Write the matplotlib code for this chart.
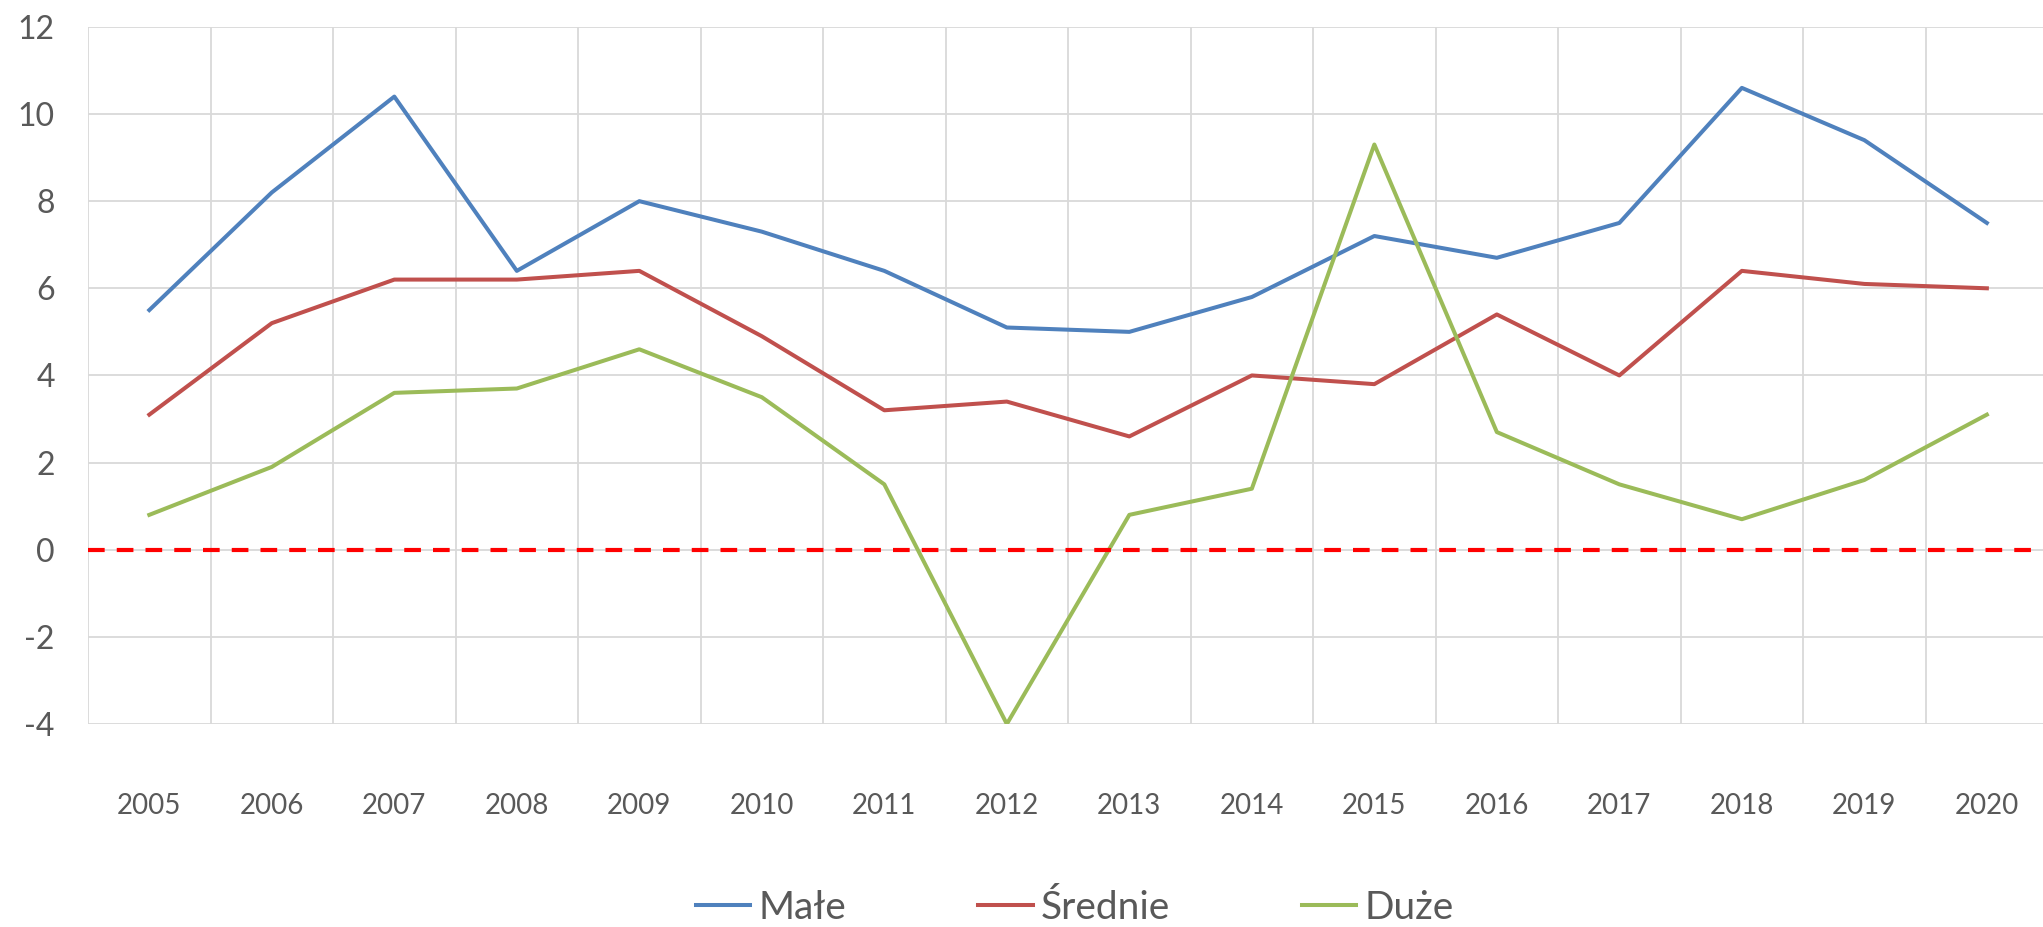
import matplotlib.pyplot as plt
import numpy as np

years = ['2005', '2006', '2007', '2008', '2009', '2010', '2011', '2012',
         '2013', '2014', '2015', '2016', '2017', '2018', '2019', '2020']
male = [5.5, 8.2, 10.4, 6.4, 8.0, 7.3, 6.4, 5.1, 5.0, 5.8, 7.2, 6.7, 7.5, 10.6, 9.4, 7.5]
srednie = [3.1, 5.2, 6.2, 6.2, 6.4, 4.9, 3.2, 3.4, 2.6, 4.0, 3.8, 5.4, 4.0, 6.4, 6.1, 6.0]
duze = [0.8, 1.9, 3.6, 3.7, 4.6, 3.5, 1.5, -4.0, 0.8, 1.4, 9.3, 2.7, 1.5, 0.7, 1.6, 3.1]

plt.rcParams['font.family'] = ['Lato', 'DejaVu Sans']
plt.rcParams['axes.unicode_minus'] = False
txt = '#595959'
grid = '#d9d9d9'

fig = plt.figure(figsize=(20.43, 9.27), dpi=100)
ax = fig.add_axes([0.0431, 0.219, 0.9594, 0.752])

x = np.arange(len(years))
ax.plot(x, male, color='#4f81bd', lw=2.9, label='Małe', zorder=3)
ax.plot(x, srednie, color='#c0504d', lw=2.9, label='Średnie', zorder=3)
ax.plot(x, duze, color='#9bbb59', lw=2.9, label='Duże', zorder=3)

# zero line
ax.axhline(0, color='#ff0000', lw=3, dashes=(4, 2.9), zorder=4)

ax.set_xlim(-0.5, len(years) - 0.5)
ax.set_ylim(-4, 12)
ax.set_yticks(np.arange(-4, 13, 2))
ax.set_xticks(x)
ax.set_xticklabels(years)
ax.set_xticks(np.arange(-0.5, len(years), 1), minor=True)

ax.grid(axis='y', which='major', color=grid, lw=1.3)
ax.grid(axis='x', which='minor', color=grid, lw=1.3)
ax.set_axisbelow(True)
for s in ax.spines.values():
    s.set_visible(False)

ax.tick_params(axis='x', which='both', length=0, pad=50, labelsize=20, labelcolor=txt)
ax.tick_params(axis='y', length=0, pad=24, labelsize=23, labelcolor=txt)

fig.legend(loc='center', bbox_to_anchor=(0.526, 0.021), ncol=3, frameon=False,
           fontsize=28, labelcolor=txt, handlelength=1.4, handletextpad=0.2,
           columnspacing=3.4)

fig.savefig('out.png', dpi=100)
